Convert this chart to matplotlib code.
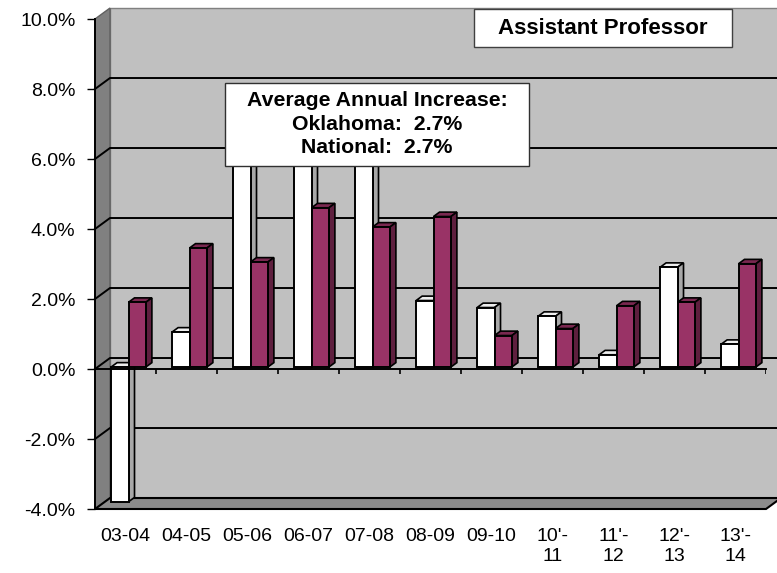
import matplotlib
matplotlib.use("Agg")
import matplotlib.pyplot as plt
from matplotlib.patches import Polygon, Rectangle

plt.rcParams['font.family'] = ['Liberation Sans', 'DejaVu Sans']

# annual salary increase, percent
years = ["03-04", "04-05", "05-06", "06-07", "07-08", "08-09", "09-10",
         "10'-\n11", "11'-\n12", "12'-\n13", "13'-\n14"]
oklahoma = [-3.85, 1.0, 7.7, 7.9, 7.9, 1.9, 1.7, 1.45, 0.35, 2.85, 0.65]
national = [1.85, 3.4, 3.0, 4.55, 4.0, 4.3, 0.9, 1.1, 1.75, 1.85, 2.95]
y_ticks = [-4, -2, 0, 2, 4, 6, 8, 10]
title = "Assistant Professor"
summary = "Average Annual Increase:\nOklahoma:  2.7%\nNational:  2.7%"

W, H = 777, 573
fig = plt.figure(figsize=(W / 100, H / 100), dpi=100)
ax = fig.add_axes([95 / W, 1 - 509 / H, 671 / W, 490 / H])
n = len(years)
ymin, ymax = y_ticks[0], y_ticks[-1]
ax.set_xlim(0, n)
ax.set_ylim(ymin, ymax)
ax.patch.set_visible(False)

# depth of the 3d box in data units
DX, DY = 0.246, 0.314

# walls and floor
ax.add_patch(Polygon([(DX, ymin + DY), (n + DX, ymin + DY), (n + DX, ymax + DY), (DX, ymax + DY)],
                     closed=True, fc="#c0c0c0", ec="#808080", lw=1, zorder=0.5, clip_on=False))
ax.add_patch(Polygon([(0, ymin), (DX, ymin + DY), (DX, ymax + DY), (0, ymax)],
                     closed=True, fc="#808080", ec="#606060", lw=1, zorder=0.6, clip_on=False))
ax.add_patch(Polygon([(0, ymin), (n, ymin), (n + DX, ymin + DY), (DX, ymin + DY)],
                     closed=True, fc="#8c8c8c", ec="black", lw=1.5, zorder=0.6, clip_on=False))

# gridlines on the back and side walls
for t in y_ticks[1:-1]:
    ax.plot([0, DX, n + DX], [t, t + DY, t + DY], color="black", lw=1.4, zorder=0.7, clip_on=False)

# category axis along the zero level
ax.plot([0, n], [0, 0], color="black", lw=1.4, zorder=4, clip_on=False)
ax.vlines(range(1, n + 1), -0.15, 0, color="black", lw=1.2, zorder=4)

# 3d columns
f0, f1 = 0.18, 0.58
sx, sy = f0 * DX, f0 * DY
ddx, ddy = (f1 - f0) * DX, (f1 - f0) * DY
bw = 0.285
styles = [("white", "#eeeeee", "#a8a8a8"), ("#993366", "#7a2850", "#5e1f3e")]
z = 2
for i in range(n):
    for k, vals in enumerate([oklahoma, national]):
        front, top_c, side_c = styles[k]
        left = i + 0.22 + k * bw + sx
        v = vals[i]
        ax.bar(left, v, width=bw, bottom=sy, align="edge", color=front,
               edgecolor="black", lw=1.4, zorder=z + 0.2)
        lo, hi = min(sy, v + sy), max(sy, v + sy)
        r = left + bw
        ax.add_patch(Polygon([(left, hi), (r, hi), (r + ddx, hi + ddy), (left + ddx, hi + ddy)],
                             closed=True, fc=top_c, ec="black", lw=1.2, zorder=z, clip_on=False))
        ax.add_patch(Polygon([(r, lo), (r, hi), (r + ddx, hi + ddy), (r + ddx, lo + ddy)],
                             closed=True, fc=side_c, ec="black", lw=1.2, zorder=z, clip_on=False))
        z += 1

# axes, ticks and labels
for s in ["top", "right", "bottom"]:
    ax.spines[s].set_visible(False)
ax.spines["left"].set_color("black")
ax.spines["left"].set_linewidth(1.4)
ax.spines["left"].set_zorder(4)
ax.set_yticks(y_ticks)
ax.set_yticklabels([f"{t:.1f}%" for t in y_ticks])
ax.tick_params(axis="y", length=6, width=1, pad=8, labelsize=14)
ax.set_xticks([i + 0.5 for i in range(n)])
ax.set_xticklabels(years)
ax.tick_params(axis="x", length=0, pad=14, labelsize=14)


def px_box(x0, y0, x1, y1):
    return (x0 / W, 1 - y1 / H), (x1 - x0) / W, (y1 - y0) / H


# title box
xy, w, h = px_box(474, 9, 732, 47)
fig.add_artist(Rectangle(xy, w, h, transform=fig.transFigure, fc="white", ec="#404040", lw=1, zorder=5))
fig.text(xy[0] + w / 2, xy[1] + h / 2, title, ha="center", va="center",
         fontsize=16, fontweight="bold", zorder=6)

# average increase box
xy, w, h = px_box(225, 83, 529, 166)
fig.add_artist(Rectangle(xy, w, h, transform=fig.transFigure, fc="white", ec="#303030", lw=1, zorder=5))
fig.text(xy[0] + w / 2, xy[1] + h / 2 + 0.5 / H, summary, ha="center", va="center",
         fontsize=15.3, fontweight="bold", linespacing=1.3, zorder=6)

fig.savefig("out.png", dpi=100)
